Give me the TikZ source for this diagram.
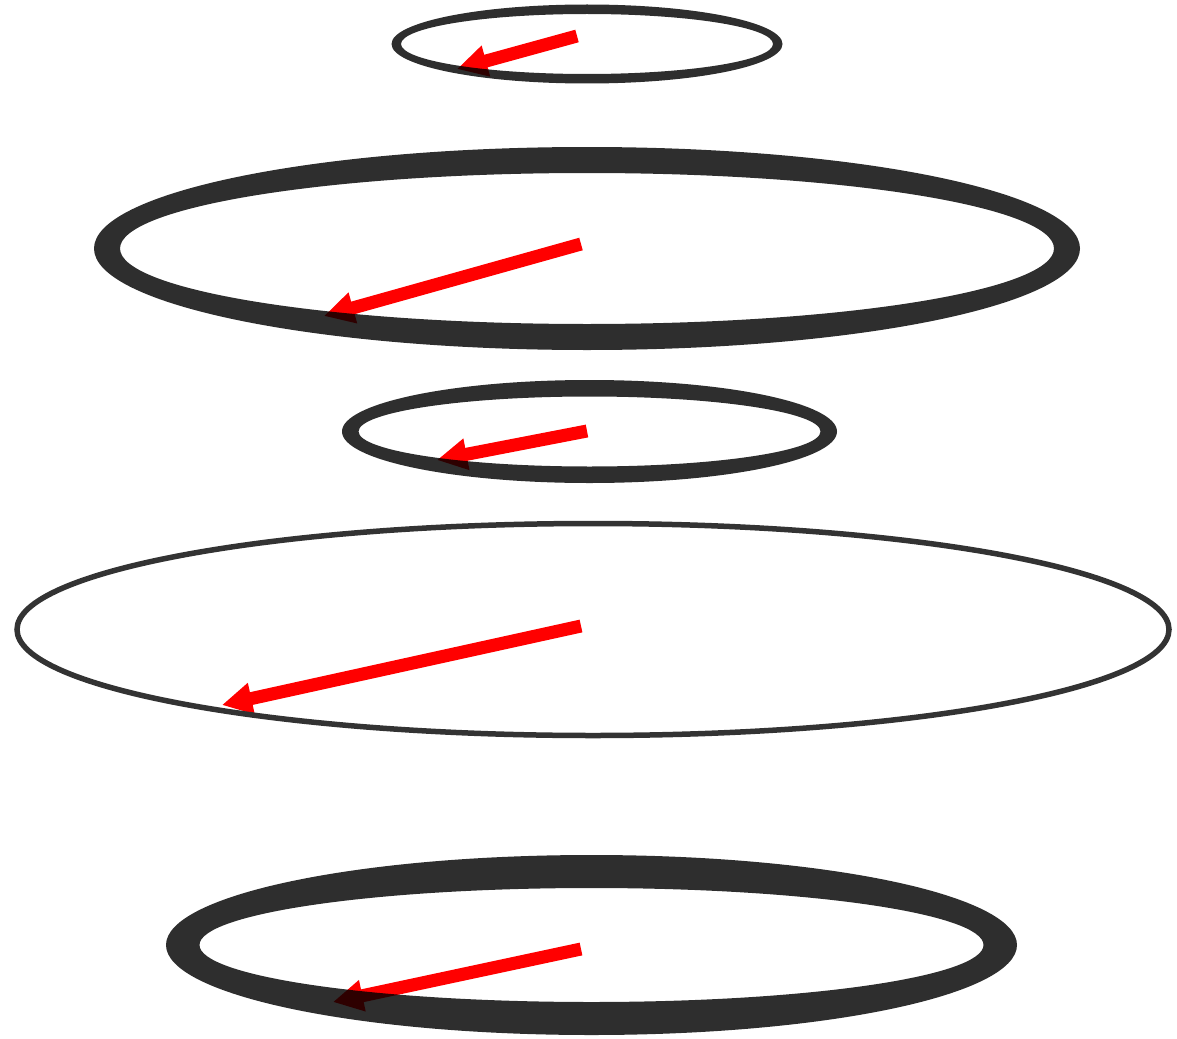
\documentclass[tikz,border=0pt]{standalone}
\usepackage{tikz}
\usepackage{xcolor}
\usetikzlibrary{arrows.meta}
\definecolor{ringDark}{RGB}{0,0,0}
\definecolor{ringLine}{RGB}{51,51,51}
\definecolor{arrowRed}{RGB}{255,0,0}
\tikzset{
  ringFill/.style={fill=ringDark,fill opacity=0.82,even odd rule},
  radiusArrow/.style={draw=arrowRed,line width=13pt,-{Triangle[length=30pt,width=30pt]}},
}
% #1 centre, #2 outer x radius, #3 outer y radius, #4 inner x radius, #5 inner y radius
\newcommand{\FlatRing}[5]{%
  \fill[ringFill] (#1) ellipse[x radius=#2,y radius=#3] (#1) ellipse[x radius=#4,y radius=#5];}
\begin{document}
\begin{tikzpicture}[x=1pt,y=-1pt]
  \useasboundingbox (0,0) rectangle (1177,1038);
  % centres and arrow ends
  \coordinate (cA) at (587,44);    \coordinate (tA) at (457,69);
  \coordinate (cB) at (587,248.5); \coordinate (tB) at (324,316);
  \coordinate (cC) at (589.5,431.5); \coordinate (tC) at (437,460);
  \coordinate (cD) at (593,629.5);   \coordinate (tD) at (222,705);
  \coordinate (cE) at (591.5,945);   \coordinate (tE) at (333,1002);
  % arrows first, the rings lie over their tips
  \draw[radiusArrow] (577,36) -- (tA);
  \draw[radiusArrow] (581,244) -- (tB);
  \draw[radiusArrow] (587,431) -- (tC);
  \draw[radiusArrow] (581,626) -- (tD);
  \draw[radiusArrow] (581,949) -- (tE);
  % rings
  \FlatRing{cA}{195.5}{39.5}{186}{30}
  \FlatRing{cB}{493}{101.5}{467}{75.5}
  \FlatRing{cC}{247.5}{51.5}{231}{35}
  \draw[ringLine,line width=5.5pt] (cD) ellipse[x radius=576,y radius=106];
  \FlatRing{cE}{425.5}{90}{392}{57}
\end{tikzpicture}
\end{document}
